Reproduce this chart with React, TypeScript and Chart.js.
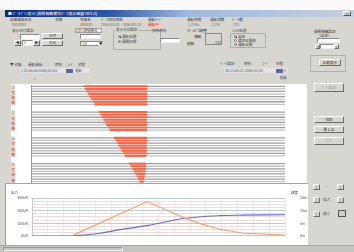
import React, { useEffect, useRef } from "react";
import { Chart, registerables } from "chart.js";

Chart.register(...registerables);

// ---------------- data ----------------
const GROUPS = ["1号機構", "2号機構", "3号機構", "4号機構"];
const GROUP_ROWS = [
  [0, 7],
  [10, 17],
  [20, 27],
  [30, 37],
];
const ROW_LABELS = [
  "1-1", "1-2", "1-3", "1-4", "1-5", "1-6", "1-7", "1-8", "", "",
  "2-1", "2-2", "2-3", "2-4", "2-5", "2-6", "2-7", "2-8", "", "",
  "3-1", "3-2", "3-3", "3-4", "3-5", "3-6", "3-7", "3-8", "", "",
  "4-1", "4-2", "4-3", "4-4", "4-5", "4-6", "4-7", "4-8",
];
const ROW_ACTIVE = [
  1, 1, 1, 1, 1, 1, 1, 1, 0, 0,
  1, 1, 1, 1, 1, 1, 1, 1, 0, 0,
  1, 1, 1, 1, 1, 1, 1, 1, 0, 0,
  1, 1, 1, 1, 1, 1, 1, 1,
];
const MOVE_START = [
  20.4, 21.0, 21.7, 22.2, 22.9, 23.4, 24.1, 24.7, null, null,
  26.4, 27.1, 27.6, 28.3, 28.9, 29.4, 30.1, 30.7, null, null,
  32.4, 33.1, 33.7, 34.2, 34.9, 35.5, 36.0, 36.7, null, null,
  38.4, 39.0, 39.7, 40.2, 40.9, 41.5, 42.0, 42.6,
];
const MOVE_END = [
  45.6, 45.6, 45.5, 45.6, 45.5, 45.6, 45.5, 45.5, null, null,
  45.5, 45.4, 45.5, 45.4, 45.5, 45.4, 45.5, 45.4, null, null,
  45.4, 45.5, 45.3, 45.4, 45.3, 45.4, 45.3, 45.2, null, null,
  45.1, 45.0, 45.1, 44.9, 44.8, 44.6, 44.3, 44.1,
];
const TIME_MIN = 0;
const TIME_MAX = 100;

const LOAD_T = [0, 15.7, 45.5, 60.5, 66.4, 74.3, 83.4, 100];
const LOAD_V = [0, 0, 5.44, 2.79, 1.95, 1.05, 0.42, 0.14];
const SPEED_T = [0, 16, 26.9, 34.8, 45.8, 60.5, 74.3, 83.4, 100];
const SPEED_V = [0, 0, 0.42, 0.98, 1.67, 2.79, 3.21, 3.28, 3.35];
const LEFT_TICKS = ["0kW", "100kW", "200kW", "300kW"];
const RIGHT_TICKS = ["0m", "5m", "10m", "15m"];

// ---------------- ui helpers ----------------
const FONT = '"Noto Sans CJK JP", "Noto Sans", sans-serif';
const BG = "#d8d6d0";

function box(x: number, y: number, w: number, h: number, extra: any = {}) {
  return { position: "absolute", left: x, top: y, width: w, height: h, boxSizing: "border-box", ...extra } as any;
}

function T({ x, y, s = 3.6, c = "#3c3c3c", children, bold }: any) {
  return (
    <span
      style={{
        position: "absolute",
        left: x,
        top: y,
        fontSize: s,
        lineHeight: 1,
        color: c,
        whiteSpace: "nowrap",
        fontFamily: FONT,
        fontWeight: bold ? 700 : 400,
      }}
    >
      {children}
    </span>
  );
}

function Btn({ x, y, w, h, label, disabled }: any) {
  return (
    <div
      style={box(x, y, w, h, {
        background: BG,
        borderTop: "1px solid #fff",
        borderLeft: "1px solid #fff",
        borderRight: "1px solid #6a6a6a",
        borderBottom: "1px solid #6a6a6a",
        fontSize: 3.6,
        lineHeight: `${h - 2}px`,
        textAlign: "center",
        color: disabled ? "#9a9a9a" : "#333",
        fontFamily: FONT,
        whiteSpace: "nowrap",
        overflow: "hidden",
      })}
    >
      {label}
    </div>
  );
}

function Inp({ x, y, w, h, text }: any) {
  return (
    <div
      style={box(x, y, w, h, {
        background: "#fff",
        borderTop: "1px solid #8a8a8a",
        borderLeft: "1px solid #8a8a8a",
        borderRight: "1px solid #eee",
        borderBottom: "1px solid #eee",
        fontSize: 3.4,
        lineHeight: `${h - 2}px`,
        color: "#333",
        fontFamily: FONT,
        paddingLeft: 1,
        whiteSpace: "nowrap",
        overflow: "hidden",
      })}
    >
      {text}
    </div>
  );
}

function Group({ x, y, w, h, title }: any) {
  return (
    <>
      <div style={box(x, y + 2, w, h - 2, { border: "1px solid #b0aea8" })} />
      <div style={box(x + 2, y, 0, 0)}>
        <span style={{ position: "absolute", left: 0, top: 0, background: BG, fontSize: 3.5, lineHeight: 1, color: "#3c3c3c", fontFamily: FONT, whiteSpace: "nowrap", padding: "0 1px" }}>
          {title}
        </span>
      </div>
    </>
  );
}

function Radio({ x, y, label, on }: any) {
  return (
    <>
      <div style={box(x, y, 3, 3, { background: "#fff", border: "1px solid #777", borderRadius: 2 })}>
        {on ? <div style={box(0.5, 0.5, 1, 1, { background: "#222" })} /> : null}
      </div>
      <T x={x + 4} y={y - 0.3}>{label}</T>
    </>
  );
}

// ---------------- charts ----------------
function GanttChart() {
  const ref = useRef<HTMLCanvasElement | null>(null);
  useEffect(() => {
    if (!ref.current) return;
    const moveData = ROW_LABELS.map((_, i) => (MOVE_START[i] == null ? null : [MOVE_START[i], MOVE_END[i]]));
    const baseData = ROW_LABELS.map((_, i) => (ROW_ACTIVE[i] ? [TIME_MIN, TIME_MAX] : null));
    const baseColors = ROW_LABELS.map((_, i) => (i % 2 === 0 ? "#9e9e9e" : "#c2c2c2"));
    const groupLabelPlugin = {
      id: "groupLabels",
      afterDraw(chart: any) {
        const { ctx, chartArea, scales } = chart;
        const y = scales.y;
        ctx.save();
        // left axis line
        ctx.strokeStyle = "#9a9a9a";
        ctx.lineWidth = 1;
        ctx.beginPath();
        ctx.moveTo(Math.round(chartArea.left) - 0.5, chartArea.top);
        ctx.lineTo(Math.round(chartArea.left) - 0.5, chartArea.bottom);
        ctx.stroke();
        // group labels (vertical)
        const half = (y.getPixelForValue(1) - y.getPixelForValue(0)) / 2;
        ctx.font = `3.6px ${FONT}`;
        ctx.textAlign = "center";
        ctx.textBaseline = "top";
        GROUPS.forEach((g, gi) => {
          const top = y.getPixelForValue(GROUP_ROWS[gi][0]) - half;
          const bot = y.getPixelForValue(GROUP_ROWS[gi][1]) + half;
          ctx.fillStyle = "#f3d6cf";
          ctx.fillRect(1, top, 4, bot - top);
          ctx.fillStyle = "#c2452e";
          const chars = Array.from(g);
          const step = (bot - top) / chars.length;
          chars.forEach((ch, k) => ctx.fillText(ch, 3, top + k * step + 0.5));
        });
        ctx.restore();
      },
    };
    const chart = new Chart(ref.current, {
      type: "bar",
      data: {
        labels: ROW_LABELS,
        datasets: [
          {
            label: "動作区間",
            data: moveData as any,
            backgroundColor: "#ef6a4c",
            barPercentage: 0.82,
            categoryPercentage: 1,
            grouped: false,
            order: 0,
          } as any,
          {
            label: "基準",
            data: baseData as any,
            backgroundColor: baseColors,
            barPercentage: 0.5,
            categoryPercentage: 1,
            grouped: false,
            order: 1,
          } as any,
        ],
      },
      options: {
        indexAxis: "y",
        responsive: false,
        animation: false,
        layout: { padding: { left: 22, right: 22, top: 5, bottom: 1 } },
        plugins: { legend: { display: false }, tooltip: { enabled: false } },
        scales: {
          x: { type: "linear", min: TIME_MIN, max: TIME_MAX, display: false },
          y: { display: false },
        },
      } as any,
      plugins: [groupLabelPlugin],
    });
    return () => chart.destroy();
  }, []);
  return <canvas ref={ref} width={297} height={104} style={box(10, 80, 297, 104)} />;
}

function TrendChart() {
  const ref = useRef<HTMLCanvasElement | null>(null);
  useEffect(() => {
    if (!ref.current) return;
    const tickCb = (labels: string[]) => (v: any) => (Number(v) % 2 === 0 ? labels[Number(v) / 2] : "");
    const chart = new Chart(ref.current, {
      type: "line",
      data: {
        datasets: [
          {
            label: "出力",
            data: LOAD_T.map((t, i) => ({ x: t, y: LOAD_V[i] })),
            borderColor: "#f0a070",
            borderWidth: 1.2,
            pointRadius: 0,
            tension: 0,
            yAxisID: "y",
          },
          {
            label: "速度",
            data: SPEED_T.map((t, i) => ({ x: t, y: SPEED_V[i] })),
            borderColor: "#6b6bc6",
            borderWidth: 1.2,
            pointRadius: 0,
            tension: 0.3,
            yAxisID: "y",
          },
        ],
      },
      options: {
        responsive: false,
        animation: false,
        layout: { padding: { top: 14, bottom: 4 } },
        plugins: { legend: { display: false }, tooltip: { enabled: false } },
        scales: {
          x: {
            type: "linear",
            min: TIME_MIN,
            max: TIME_MAX,
            ticks: { display: false, stepSize: 6.25 },
            grid: { color: "rgba(235,205,205,0.55)", drawTicks: false },
            border: { display: false },
            afterFit: (s: any) => {
              s.height = 0;
            },
          },
          y: {
            position: "left",
            min: 0,
            max: 6,
            ticks: {
              stepSize: 0.5,
              autoSkip: false,
              callback: tickCb(LEFT_TICKS),
              font: { size: 3.5, family: FONT },
              color: "#555",
              padding: 4,
            },
            grid: {
              color: (c: any) => (c.tick && c.tick.value % 2 === 0 ? "#bccbd4" : "#efdcdc"),
              drawTicks: false,
            },
            border: { color: "#c8c8c8" },
            afterFit: (s: any) => {
              s.width = 27;
            },
          },
          y2: {
            position: "right",
            min: 0,
            max: 6,
            ticks: {
              stepSize: 0.5,
              autoSkip: false,
              callback: tickCb(RIGHT_TICKS),
              font: { size: 3.5, family: FONT },
              color: "#555",
              padding: 7,
            },
            grid: { display: false },
            border: { display: false },
            afterFit: (s: any) => {
              s.width = 23;
            },
          },
        },
      } as any,
    });
    return () => chart.destroy();
  }, []);
  return <canvas ref={ref} width={303} height={61} style={box(5, 184, 303, 61)} />;
}

// ---------------- app ----------------
export default function App() {
  return (
    <div style={{ position: "fixed", left: 0, top: 0, width: 354, height: 252, overflow: "hidden", background: BG, fontFamily: FONT }}>
      {/* top white strip & title bar */}
      <div style={box(0, 0, 354, 10, { background: "#fafafa" })} />
      <div style={box(5, 10, 349, 7, { background: "linear-gradient(90deg,#0b2a7a 0%,#2d56a8 30%,#9fb8de 52%,#c4cfe0 100%)" })} />
      <T x={8} y={11.5} s={3.8} c="#fff">■ ﾃﾞｰﾀｸﾞﾗﾌ表示 [開閉機構 動作ﾃﾞｰﾀ表示画面 Ver1.0]</T>
      <div style={box(343, 11, 8, 5, { background: BG, borderTop: "1px solid #fff", borderLeft: "1px solid #fff", borderRight: "1px solid #555", borderBottom: "1px solid #555", fontSize: 3.5, lineHeight: "3px", textAlign: "center", color: "#222" })}>×</div>

      {/* header row 1 */}
      <T x={10} y={18}>設備機器名称</T>
      <T x={55} y={18}>号機</T>
      <T x={80} y={18}>号機名</T>
      <T x={101} y={18}>ﾃﾞｰﾀ保存期間</T>
      <T x={148} y={18}>運転ﾓｰﾄﾞ</T>
      <T x={187} y={18}>運転時間</T>
      <T x={210} y={18}>運転回数</T>
      <T x={232} y={18}>ﾃﾞｰﾀ数</T>
      {/* header row 2 */}
      <T x={12} y={23} c="#666">XXXXXXX</T>
      <T x={80} y={23} c="#666">XXXXXX</T>
      <T x={101} y={23} c="#666">2006/01/01 - 2006/01/31</T>
      <div style={box(147, 22.5, 16, 4.5, { background: "#f2c8c0" })} />
      <T x={148} y={23} c="#d03020">運転中</T>
      <T x={188} y={23} c="#666">1,234h</T>
      <T x={211} y={23} c="#666">1,234</T>
      <T x={233} y={23} c="#666">123</T>

      {/* header row 3 */}
      <T x={12} y={29}>表示日付選択</T>
      <Inp x={20} y={34} w={20} h={6} text="" />
      <Btn x={42} y={33} w={21} h={6} label="次月" />
      <Btn x={14} y={40} w={7} h={6} label="◀" />
      <Inp x={22} y={40} w={11} h={6} text="1" />
      <Btn x={33} y={40} w={7} h={6} label="▶" />
      <Btn x={42} y={40} w={21} h={6} label="次日" />

      <div style={box(75, 28, 27, 5, { background: "#eeeeea", border: "1px solid #a0a0a0" })} />
      <T x={76} y={28.8} s={3.3}>ｽｸﾛｰﾙ時間単位</T>
      <Inp x={80} y={34} w={21} h={5} text="" />
      <div style={box(80, 41, 23, 5, { background: "#fff", border: "1px solid #8a8a8a" })} />
      <T x={82} y={41.8} s={3.3}>1分</T>
      <div style={box(98, 41.5, 4.5, 4, { background: BG, borderLeft: "1px solid #fff", fontSize: 3, lineHeight: "4px", textAlign: "center" })}>▼</div>

      <Group x={113} y={28} w={48} h={22} title="表示方向選択" />
      <Radio x={118} y={35} label="運転区間" on />
      <Radio x={118} y={40} label="開閉区間" />

      <T x={152} y={29}>参照時刻</T>
      <Inp x={160} y={38} w={20} h={5} text="" />

      <T x={187} y={28.5}>ｽｹｰﾙｾﾞﾛ調整</T>
      <T x={194} y={35}>横軸</T>
      <T x={187} y={42}>縦軸</T>
      <div style={box(205, 33, 17, 12, { border: "1px solid #8a8a8a" })} />
      <T x={215} y={41} c="#555">100</T>

      <T x={232} y={28.5}>ﾌｨﾙﾀ処理</T>
      <Group x={230} y={31} w={36} h={17} title="" />
      <Radio x={234} y={35} label="全体" on />
      <Radio x={234} y={39} label="選択区間毎" />
      <Radio x={234} y={43} label="運転区間" />

      <T x={314} y={30}>開閉機構選択</T>
      <T x={317} y={33.5}>（全体）</T>
      <Inp x={317} y={38} w={23} h={5} text="" />
      <Btn x={315} y={44} w={5} h={5} label="<" />
      <Inp x={320} y={44} w={14} h={5} text="" />
      <Btn x={334} y={44} w={5} h={5} label=">" />

      <div style={box(310, 55, 36, 17, { border: "1px solid #b0aea8" })} />
      <Btn x={319} y={59} w={22} h={7} label="比較表示" />

      {/* selection rows */}
      <T x={10} y={63}>▼ 対象</T>
      <T x={28} y={63}>運転開始</T>
      <T x={55} y={63}>時刻</T>
      <T x={67} y={63}>ｺｰﾄﾞ</T>
      <T x={78} y={63}>状態</T>
      <div style={box(20, 68, 70, 5, { background: "#e2e4ea" })} />
      <T x={21} y={68.8} c="#555">1  12:00:00  2006/01/01</T>
      <div style={box(66, 68.5, 7, 4, { background: "#5f6790" })} />
      <T x={75} y={68.8} c="#555">運転</T>

      <T x={220} y={62}>ﾃﾞｰﾀ選択</T>
      <T x={244} y={62}>時刻</T>
      <T x={262} y={62}>ｺｰﾄﾞ</T>
      <T x={276} y={62}>状態</T>
      <div style={box(224, 68, 64, 5, { background: "#e2e4ea" })} />
      <T x={225} y={68.8} c="#555">38 12:00:31  2006/01/01</T>
      <div style={box(276, 68.5, 7, 4, { background: "#5f6790" })} />
      <T x={284} y={68.8} c="#555">0</T>
      <T x={33} y={78} s={3}>↓</T>
      <T x={280} y={76} s={3.2}>終端</T>

      {/* chart panels */}
      <div style={box(11, 84, 296, 100, { background: "#fff" })} />
      <div style={box(5, 183, 303, 1.5, { background: "#a8a6a0" })} />
      <div style={box(5, 184, 303, 61, { background: "#fff", borderLeft: "1px solid #9a9a9a" })} />
      <GanttChart />
      <TrendChart />
      <T x={11} y={190.5} s={3.5}>出力</T>
      <T x={291} y={191} s={3.5}>速度</T>

      {/* right panel buttons */}
      <Btn x={314} y={83} w={30} h={9} label="ｸﾞﾗﾌ拡大" disabled />
      <Btn x={314} y={116} w={30} h={7} label="印刷" />
      <Btn x={314} y={126} w={30} h={7} label="閉じる" />
      <Btn x={314} y={137} w={30} h={8} label="ﾍﾙﾌﾟ" disabled />

      {/* lower right small controls */}
      <Btn x={313} y={184} w={7} h={6} label="|" />
      <T x={323} y={185} c="#555">- - -</T>
      <Btn x={337} y={184} w={7} h={6} label="|" />
      <Btn x={313} y={197} w={7} h={6} label="|" />
      <T x={323} y={198} c="#555">拡大</T>
      <Btn x={337} y={197} w={7} h={6} label="|" />
      <Btn x={313} y={211} w={7} h={6} label="|" />
      <T x={323} y={212} c="#555">縮小</T>
      <div style={box(338, 210, 8, 7, { border: "1px solid #555", background: "#cfcdc7" })} />

      {/* status bar */}
      <div style={box(0, 245, 354, 7, { background: "#c6c4be", borderTop: "1px solid #a8a6a0" })} />
      <div style={box(3, 246.5, 120, 4.5, { borderTop: "1px solid #999", borderLeft: "1px solid #999", borderRight: "1px solid #eee", borderBottom: "1px solid #eee" })} />
    </div>
  );
}
